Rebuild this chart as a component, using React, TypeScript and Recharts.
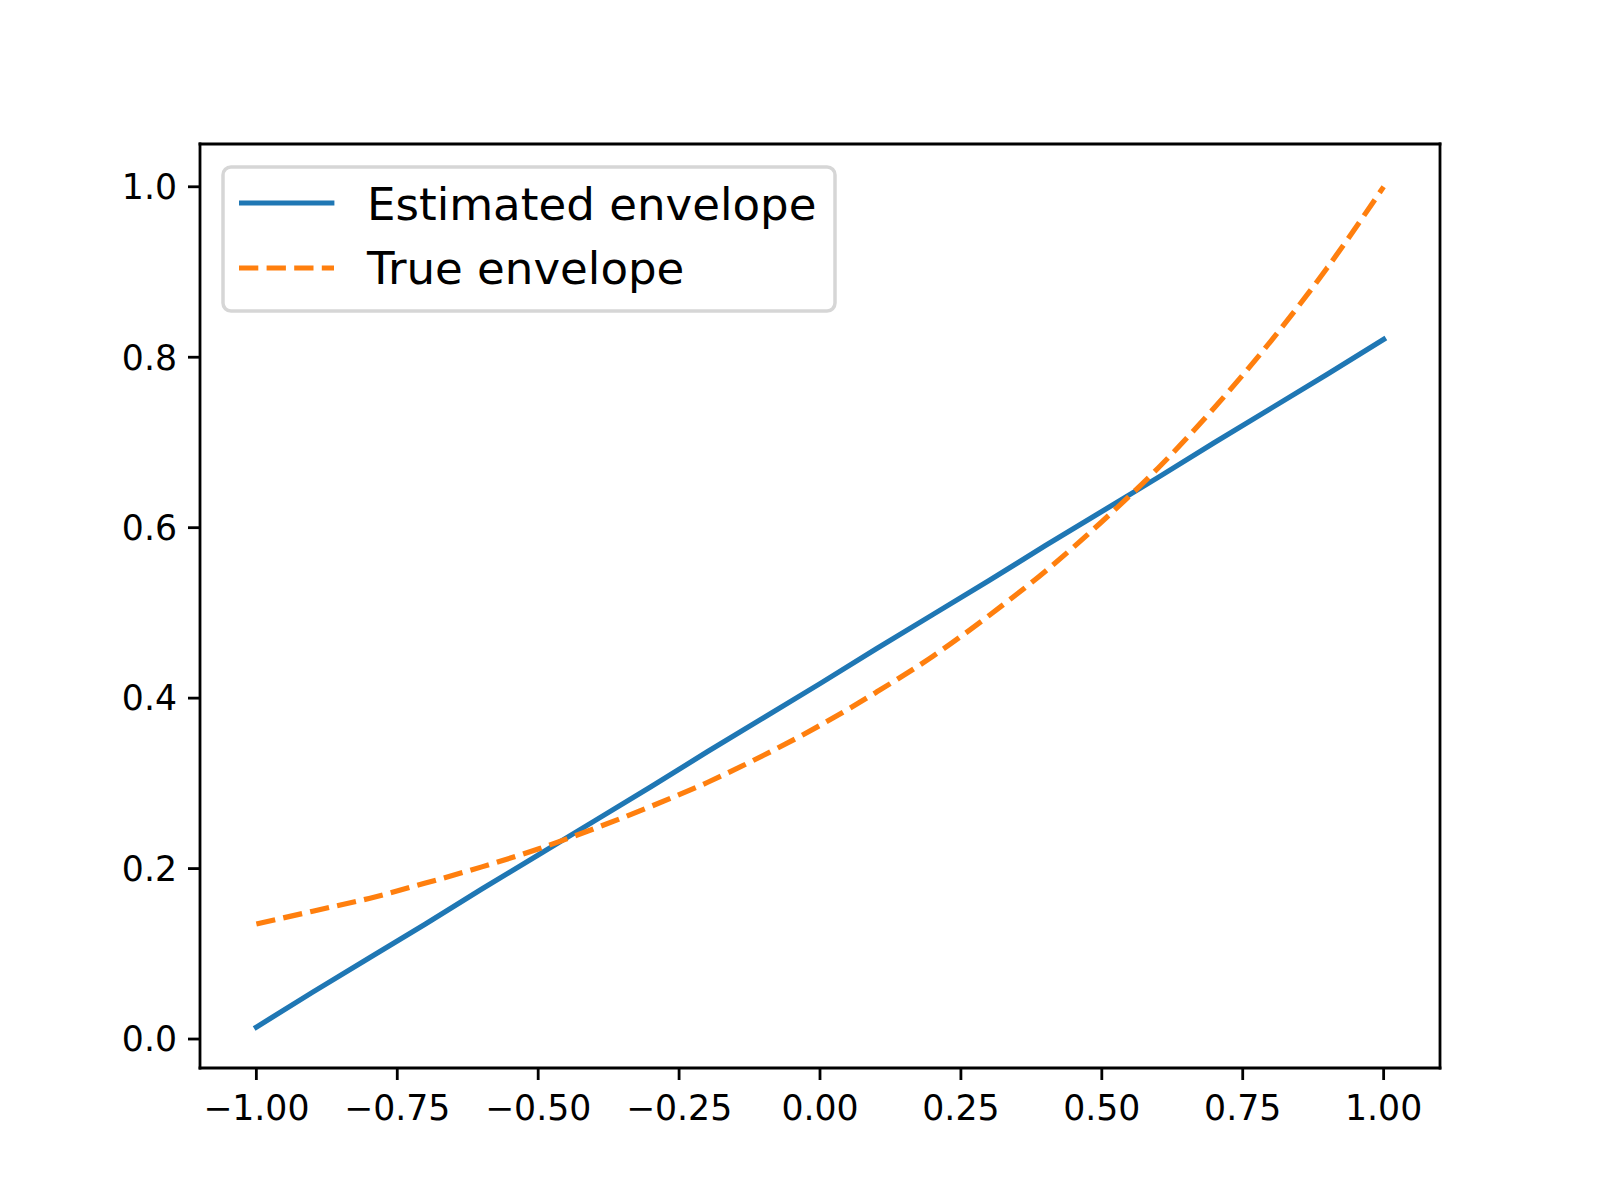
import { LineChart, Line, XAxis, YAxis, Legend, ReferenceLine } from 'recharts';

document.body.style.margin = '0';

const xs = [-1.0, -0.9, -0.8, -0.7, -0.6, -0.5, -0.4, -0.3, -0.2, -0.1, 0.0, 0.1, 0.2, 0.3, 0.4, 0.5, 0.6, 0.7, 0.8, 0.9, 1.0];
const estimated = [0.014, 0.055, 0.095, 0.135, 0.176, 0.216, 0.256, 0.296, 0.337, 0.377, 0.417, 0.458, 0.498, 0.538, 0.579, 0.619, 0.659, 0.7, 0.74, 0.78, 0.821];
const trueEnvelope = [0.135, 0.15, 0.165, 0.183, 0.202, 0.223, 0.247, 0.273, 0.301, 0.333, 0.368, 0.407, 0.449, 0.497, 0.549, 0.607, 0.67, 0.741, 0.819, 0.905, 1.0];
const xTicks = [-1, -0.75, -0.5, -0.25, 0, 0.25, 0.5, 0.75, 1];
const yTicks = [0, 0.2, 0.4, 0.6, 0.8, 1.0];
const seriesNames = ['Estimated envelope', 'True envelope'];

const data = xs.map((x, i) => ({ x, est: estimated[i], tru: trueEnvelope[i] }));

const BLUE = '#1f77b4';
const ORANGE = '#ff7f0e';
const FONT = '"DejaVu Sans", sans-serif';
const xDomain = [-1.1, 1.1];
const yDomain = [-0.034, 1.0502];

const fmtX = (v: number) => v.toFixed(2).replace('-', '\u2212');
const fmtY = (v: number) => v.toFixed(1).replace('-', '\u2212');

const spine = { stroke: '#000', strokeWidth: 2.8, strokeLinecap: 'square' as const };
const tickStyle = { fill: '#000', fontSize: 34.7, fontFamily: FONT };

// matplotlib-style legend box
const renderLegend = () => (
  <svg width={616} height={148} style={{ display: 'block' }}>
    <rect x={2} y={2} width={612} height={144} rx={8} fill="#fff" fillOpacity={0.8}
      stroke="#cccccc" strokeOpacity={0.8} strokeWidth={3.5} />
    <line x1={20.6} y1={38} x2={110.8} y2={38} stroke={BLUE} strokeWidth={5.2} strokeLinecap="square" />
    <line x1={18} y1={103} x2={113} y2={103} stroke={ORANGE} strokeWidth={5.2} strokeDasharray="19.3 8.3" />
    <text x={146} y={54.5} fontSize={45.1} fontFamily={FONT} fill="#000">{seriesNames[0]}</text>
    <text x={146} y={119} fontSize={45.1} fontFamily={FONT} fill="#000">{seriesNames[1]}</text>
  </svg>
);

export default function App() {
  return (
    <LineChart
      width={1600}
      height={1200}
      data={data}
      margin={{ top: 144, right: 160, bottom: 72, left: 100 }}
      style={{ background: '#fff' }}
    >
      <XAxis
        dataKey="x"
        type="number"
        domain={xDomain}
        ticks={xTicks}
        tickFormatter={fmtX}
        height={60}
        tickSize={12}
        tickMargin={15}
        axisLine={spine}
        tickLine={{ stroke: '#000', strokeWidth: 2.8 }}
        tick={tickStyle}
        interval={0}
      />
      <YAxis
        type="number"
        domain={yDomain}
        ticks={yTicks}
        tickFormatter={fmtY}
        width={100}
        tickSize={12}
        tickMargin={11}
        axisLine={spine}
        tickLine={{ stroke: '#000', strokeWidth: 2.8 }}
        tick={tickStyle}
        interval={0}
      />
      {/* top and right spines */}
      <ReferenceLine y={yDomain[1]} stroke="#000" strokeWidth={2.8} strokeLinecap="square" ifOverflow="extendDomain" />
      <ReferenceLine x={xDomain[1]} stroke="#000" strokeWidth={2.8} strokeLinecap="square" ifOverflow="extendDomain" />
      <Line
        dataKey="est"
        name={seriesNames[0]}
        type="linear"
        stroke={BLUE}
        strokeWidth={5.2}
        strokeLinecap="square"
        dot={false}
        activeDot={false}
        isAnimationActive={false}
      />
      <Line
        dataKey="tru"
        name={seriesNames[1]}
        type="monotone"
        stroke={ORANGE}
        strokeWidth={5.2}
        strokeDasharray="19.3 8.3"
        dot={false}
        activeDot={false}
        isAnimationActive={false}
      />
      <Legend
        content={renderLegend}
        layout="vertical"
        align="center"
        verticalAlign="middle"
        wrapperStyle={{ left: 221, top: 165, width: 616, height: 148 }}
      />
    </LineChart>
  );
}
